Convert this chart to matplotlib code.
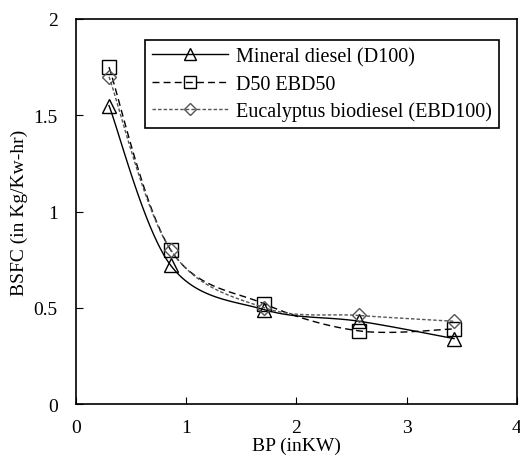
import numpy as np
import matplotlib.pyplot as plt

plt.rcParams['font.family'] = ['Liberation Serif', 'DejaVu Serif']

bp = [0.30, 0.86, 1.71, 2.57, 3.43]
d100 = [1.55, 0.72, 0.49, 0.43, 0.34]
d50 = [1.75, 0.80, 0.52, 0.38, 0.39]
ebd100 = [1.70, 0.80, 0.50, 0.46, 0.43]


def smooth(x, y, n=30):
    # Catmull-Rom style smoothing, like spreadsheet "smooth line"
    x = np.asarray(x, float)
    y = np.asarray(y, float)
    px = np.concatenate([[x[0]], x, [x[-1]]])
    py = np.concatenate([[y[0]], y, [y[-1]]])
    xs, ys = [], []
    t = np.linspace(0, 1, n)
    for i in range(1, len(px) - 2):
        p0, p1, p2, p3 = (np.array([px[j], py[j]]) for j in range(i - 1, i + 3))
        c1 = p1 + (p2 - p0) / 6
        c2 = p2 - (p3 - p1) / 6
        b = ((1 - t) ** 3)[:, None] * p1 + (3 * (1 - t) ** 2 * t)[:, None] * c1 \
            + (3 * (1 - t) * t ** 2)[:, None] * c2 + (t ** 3)[:, None] * p2
        xs.extend(b[:, 0])
        ys.extend(b[:, 1])
    return xs, ys


fig = plt.figure(figsize=(5.2, 4.64), dpi=100)
ax = fig.add_axes([0.146, 0.127, 0.848, 0.830])

series = [
    (d100, 'Mineral diesel (D100)', '-', '^', 'black', 10),
    (d50, 'D50 EBD50', (0, (5, 3)), 's', 'black', 10),
    (ebd100, 'Eucalyptus biodiesel (EBD100)', (0, (2.5, 1.5)), 'D', '#555555', 7),
]
for y, lab, ls, mk, col, ms in series:
    sx, sy = smooth(bp, y)
    ax.plot(sx, sy, ls=ls, color=col, lw=1.0)
    ax.plot(bp, y, ls='none', marker=mk, ms=ms, mfc='none', mec=col, mew=1.0)
    ax.plot([], [], ls=ls, color=col, lw=1.0, marker=mk, ms=ms * 0.85,
            mfc='none', mec=col, label=lab)

ax.set_xlim(0, 4)
ax.set_ylim(0, 2)
ax.set_xticks([0, 1, 2, 3, 4])
ax.set_yticks([0, 0.5, 1, 1.5, 2])
ax.set_xticklabels(['0', '1', '2', '3', '4'])
ax.set_yticklabels(['0', '0.5', '1', '1.5', '2'])
ax.tick_params(direction='in', labelsize=14, length=5)
ax.tick_params(axis='y', pad=13)
ax.tick_params(axis='x', pad=11)
ax.set_xlabel('BP (inKW)', fontsize=14, labelpad=0)
ax.set_ylabel('BSFC (in Kg/Kw-hr)', fontsize=14, labelpad=4)
for s in ax.spines.values():
    s.set_linewidth(1.2)

leg = ax.legend(loc='upper right', bbox_to_anchor=(0.96, 0.945), fontsize=14.5,
                fancybox=False, edgecolor='black', framealpha=1,
                handlelength=3.8, borderpad=0.35, labelspacing=0.4, handletextpad=0.4,
                borderaxespad=0)
leg.get_frame().set_linewidth(1.2)

plt.savefig('out.png', dpi=100)
